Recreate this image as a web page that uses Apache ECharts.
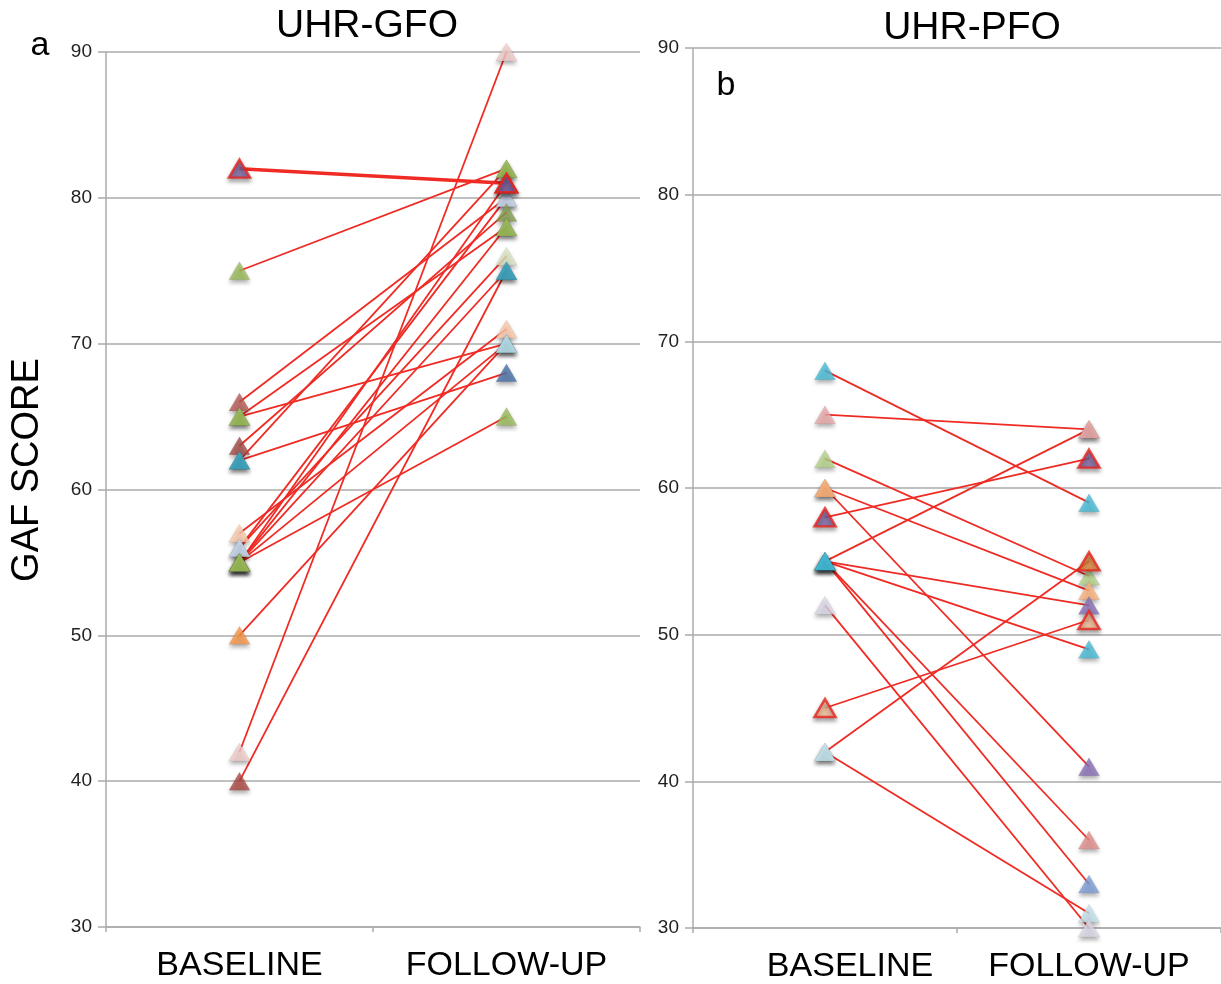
<!DOCTYPE html>
<html>
<head>
<meta charset="utf-8">
<script src="https://cdn.jsdelivr.net/npm/echarts@6/dist/echarts.min.js"></script>
<style>
  html, body { margin: 0; padding: 0; background: #fff; }
  #chart { width: 1221px; height: 984px; }
</style>
</head>
<body>
<div id="chart"></div>
<script>
// categories and ticks
const categories = ['BASELINE', 'FOLLOW-UP'];
const yTicks = [30, 40, 50, 60, 70, 80, 90];

// panel a : UHR-GFO, one entry per subject
const gfoBaseline = [82, 75, 66, 65, 65, 63, 62, 62, 57, 56, 56, 55, 55, 55, 55, 55, 50, 42, 40];
const gfoFollowUp = [81, 82, 80, 70, 78, 79, 82, 68, 71, 80, 76, 81, 78, 75, 70, 65, 70, 90, 75];
const gfoBaseColor = ['#8266a6', '#9bbb59', '#b65a55', '#9bbb59', '#9bbb59', '#a24a44', '#3fa5c0', '#3fa5c0',
  '#fccbab', '#c7d6ea', '#c7d6ea', '#9bbb59', '#9bbb59', '#9bbb59', '#9bbb59', '#9bbb59', '#f79646', '#f3cdcb', '#ad4843'];
const gfoFollowColor = ['#8266a6', '#9bbb59', '#c9d6ea', '#b5dce9', '#9bbb59', '#849e50', '#9bbb59', '#4a72a8',
  '#fccbab', '#c9d6ea', '#d9e5c3', '#8266a6', '#9bbb59', '#3fa5c0', '#b5dce9', '#9bbb59', '#b5dce9', '#f3cdcb', '#3fa5c0'];
const gfoOutlinedBase = [0];
const gfoOutlinedFollow = [0, 11];
const gfoThick = [0];

// panel b : UHR-PFO
const pfoBaseline = [68, 65, 62, 60, 60, 58, 55, 55, 55, 55, 55, 52, 45, 42, 42];
const pfoFollowUp = [59, 64, 54, 53, 41, 62, 64, 52, 49, 36, 33, 30, 51, 55, 31];
const pfoBaseColor = ['#46bcd8', '#e9a9a8', '#b5d28a', '#fbb27a', '#fbb27a', '#8266a6', '#46bcd8', '#46bcd8',
  '#46bcd8', '#46bcd8', '#46bcd8', '#dcd8e8', '#fbc39c', '#c4e4ee', '#c4e4ee'];
const pfoFollowColor = ['#46bcd8', '#e9a9a8', '#b5d28a', '#fbb27a', '#8a70b6', '#8266a6', '#e9a9a8', '#8a70b6',
  '#46bcd8', '#e48e8c', '#7e9fd8', '#dcd8e8', '#fbc39c', '#ea8a3a', '#c4e4ee'];
const pfoOutlinedBase = [5, 12];
const pfoOutlinedFollow = [5, 12, 13];
const pfoThick = [];

const LINE_RED = '#ef2b24';
const GRID_GREY = '#ababab';
const FONT = '"Liberation Sans", Arial, Helvetica, sans-serif';

function panelSeries(idx, base, follow, baseColor, followColor, outB, outF, thick) {
  const list = [];
  base.forEach(function (b, i) {
    list.push({
      type: 'line',
      xAxisIndex: idx,
      yAxisIndex: idx,
      data: [b, follow[i]],
      symbol: 'none',
      silent: true,
      z: 2,
      lineStyle: { color: LINE_RED, width: thick.indexOf(i) >= 0 ? 3.5 : 1.8 }
    });
  });
  // markers: higher values first so lower ones sit on top, outlined ones last
  const pts = [];
  base.forEach(function (b, i) {
    pts.push({ c: 0, v: b, col: baseColor[i], o: outB.indexOf(i) >= 0 });
  });
  follow.forEach(function (f, i) {
    pts.push({ c: 1, v: f, col: followColor[i], o: outF.indexOf(i) >= 0 });
  });
  pts.sort(function (p, q) {
    if (p.o !== q.o) return p.o ? 1 : -1;
    return q.v - p.v;
  });
  list.push({
    type: 'scatter',
    xAxisIndex: idx,
    yAxisIndex: idx,
    symbol: 'triangle',
    symbolSize: [21, 18],
    silent: true,
    z: 5,
    data: pts.map(function (p) {
      return {
        value: [categories[p.c], p.v],
        itemStyle: {
          color: p.col,
          borderColor: p.o ? '#e8231d' : 'rgba(0,0,0,0.12)',
          borderWidth: p.o ? 2.5 : 0.6,
          shadowBlur: 4,
          shadowOffsetY: 3,
          shadowColor: 'rgba(0,0,0,0.4)'
        }
      };
    })
  });
  return list;
}

function yAxis(idx) {
  return {
    type: 'value',
    gridIndex: idx,
    min: yTicks[0],
    max: yTicks[yTicks.length - 1],
    interval: 10,
    axisLine: { show: true, lineStyle: { color: GRID_GREY, width: 1.5 } },
    axisTick: { show: true, length: 8, lineStyle: { color: GRID_GREY, width: 1.5 } },
    axisLabel: { fontSize: 19, color: '#222', fontFamily: FONT, margin: 14 },
    splitLine: { show: true, lineStyle: { color: GRID_GREY, width: 1.5 } }
  };
}

function xAxis(idx, shiftFirst) {
  return {
    type: 'category',
    gridIndex: idx,
    data: categories,
    boundaryGap: true,
    axisLine: { show: true, lineStyle: { color: GRID_GREY, width: 1.5 } },
    axisTick: { show: true, length: 5, lineStyle: { color: GRID_GREY, width: 1.5 } },
    axisLabel: {
      interval: 0,
      hideOverlap: false,
      fontSize: 34,
      color: '#000',
      fontFamily: FONT,
      margin: 22,
      formatter: function (v, i) {
        return (shiftFirst && i === 0) ? '{s|' + v + '}' : v;
      },
      rich: { s: { fontSize: 34, fontFamily: FONT, color: '#000', padding: [0, 0, 0, 50] } }
    }
  };
}

const chart = echarts.init(document.getElementById('chart'), null, { renderer: 'canvas' });

const option = {
  animation: false,
  backgroundColor: '#fff',
  grid: [
    { left: 106, top: 52, width: 534, height: 875 },
    { left: 693, top: 48, width: 532, height: 882 }
  ],
  xAxis: [xAxis(0, false), xAxis(1, true)],
  yAxis: [yAxis(0), yAxis(1)],
  graphic: [
    { type: 'text', x: 367, y: 26, style: { text: 'UHR-GFO', font: '39px ' + FONT, fill: '#000', textAlign: 'center', textVerticalAlign: 'middle' } },
    { type: 'text', x: 972, y: 28, style: { text: 'UHR-PFO', font: '39px ' + FONT, fill: '#000', textAlign: 'center', textVerticalAlign: 'middle' } },
    { type: 'text', x: 40, y: 46, style: { text: 'a', font: '34px ' + FONT, fill: '#000', textAlign: 'center', textVerticalAlign: 'middle' } },
    { type: 'text', x: 726, y: 86, style: { text: 'b', font: '34px ' + FONT, fill: '#000', textAlign: 'center', textVerticalAlign: 'middle' } },
    { type: 'text', x: 28, y: 470, rotation: Math.PI / 2, style: { text: 'GAF SCORE', font: '38px ' + FONT, fill: '#000', textAlign: 'center', textVerticalAlign: 'middle' } }
  ],
  series: [].concat(
    panelSeries(0, gfoBaseline, gfoFollowUp, gfoBaseColor, gfoFollowColor, gfoOutlinedBase, gfoOutlinedFollow, gfoThick),
    panelSeries(1, pfoBaseline, pfoFollowUp, pfoBaseColor, pfoFollowColor, pfoOutlinedBase, pfoOutlinedFollow, pfoThick)
  )
};

chart.setOption(option);
window.onresize = function () { chart.resize(); };
</script>
</body>
</html>
